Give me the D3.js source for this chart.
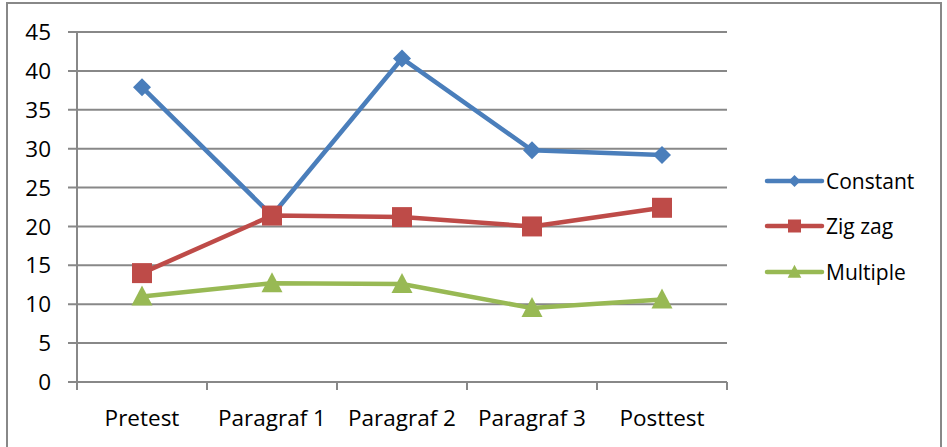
<!DOCTYPE html>
<html><head><meta charset="utf-8">
<script src="https://cdn.jsdelivr.net/npm/d3@7"></script>
<style>body{margin:0;background:#fff}svg{display:block}text{font-family:"Open Sans",Lato,sans-serif;fill:#000}</style>
</head><body><svg id="c" width="947" height="447"></svg>
<script>
const categories = ["Pretest","Paragraf 1","Paragraf 2","Paragraf 3","Posttest"];
const seriesNames = ["Constant","Zig zag","Multiple"];
const constant = [37.9, 21.4, 41.6, 29.8, 29.2];
const zigzag = [14.0, 21.4, 21.2, 20.0, 22.4];
const multiple = [11.0, 12.7, 12.6, 9.5, 10.6];
const yTicks = [0,5,10,15,20,25,30,35,40,45];
const colors = ["#4a7ebb","#be4b48","#98b954"];
const shapes = ["diamond","square","triangle"];

const svg = d3.select("#c");
svg.append("rect").attr("x",7).attr("y",3).attr("width",934).attr("height",450)
  .attr("fill","#fff").attr("stroke","#888").attr("stroke-width",2);

const L=77,R=727,T=32,B=382;
const x = d3.scaleBand().domain(categories).range([L,R]);
const y = d3.scaleLinear().domain([0,45]).range([B,T]);

svg.append("g").selectAll("line").data(yTicks).join("line")
  .attr("x1",68).attr("x2",R).attr("y1",d=>y(d)).attr("y2",d=>y(d))
  .attr("stroke","#888").attr("stroke-width",2);
svg.append("line").attr("x1",L).attr("x2",L).attr("y1",T).attr("y2",B+7).attr("stroke","#888").attr("stroke-width",2);
svg.append("g").selectAll("text").data(yTicks).join("text")
  .attr("x",51).attr("y",d=>y(d)).attr("dy","0.36em").attr("text-anchor","end")
  .attr("font-size",22.5).text(d=>d);
const xt = categories.map(c=>x(c)).concat([R]);
svg.append("g").selectAll("line").data(xt).join("line")
  .attr("x1",d=>d).attr("x2",d=>d).attr("y1",B).attr("y2",B+8).attr("stroke","#888").attr("stroke-width",2);
svg.append("g").selectAll("text").data(categories).join("text")
  .attr("x",d=>x(d)+x.bandwidth()/2).attr("y",418).attr("dy","0.36em").attr("text-anchor","middle")
  .attr("font-size",22.5).text(d=>d);

function marker(shape, s){
  if(shape==="diamond") return `M0,${-s}L${s},0L0,${s}L${-s},0Z`;
  if(shape==="square") return `M${-s},${-s}H${s}V${s}H${-s}Z`;
  return `M0,${-s*1.1}L${s*1.05},${s*0.9}H${-s*1.05}Z`;
}
const data = [constant, zigzag, multiple];
const msize = [9, 10, 10];
const line = d3.line().x((d,i)=>x(categories[i])+x.bandwidth()/2).y(d=>y(d));
data.forEach((vals,si)=>{
  const g = svg.append("g");
  g.append("path").datum(vals).attr("d",line).attr("fill","none")
    .attr("stroke",colors[si]).attr("stroke-width",4.5).attr("stroke-linejoin","round");
  g.selectAll("path.m").data(vals).join("path").attr("class","m")
    .attr("transform",(d,i)=>`translate(${x(categories[i])+x.bandwidth()/2},${y(d)})`)
    .attr("d",marker(shapes[si],msize[si])).attr("fill",colors[si]);
});

const ly=[181,226,272];
const lsize=[6,6.5,6.5];
seriesNames.forEach((n,i)=>{
  const g = svg.append("g");
  g.append("line").attr("x1",767).attr("x2",822).attr("y1",ly[i]).attr("y2",ly[i])
    .attr("stroke",colors[i]).attr("stroke-width",4.5).attr("stroke-linecap","round");
  g.append("path").attr("transform",`translate(794.5,${ly[i]})`).attr("d",marker(shapes[i],lsize[i])).attr("fill",colors[i]);
  g.append("text").attr("x",826).attr("y",ly[i]).attr("dy","0.36em").attr("font-size",21).text(n);
});
</script></body></html>
